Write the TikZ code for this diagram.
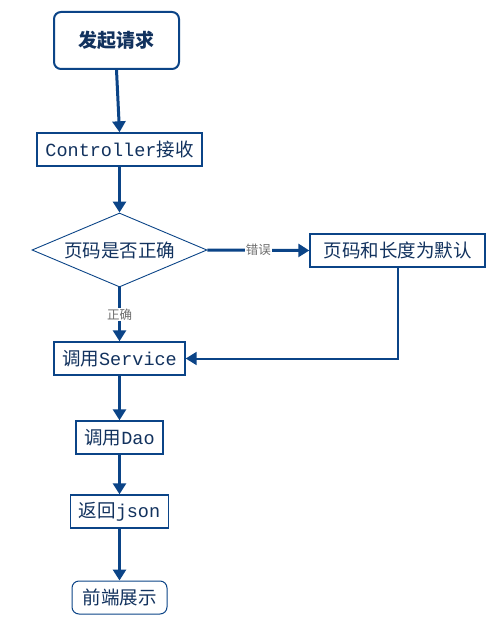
\documentclass[tikz,border=0pt]{standalone}
\usepackage{fontspec}
\setmainfont{Noto Sans CJK SC}
\setmonofont{Liberation Mono}
\usetikzlibrary{arrows.meta,shapes.geometric}
\definecolor{navy}{HTML}{0B4487}
\definecolor{txt}{HTML}{12325E}
\definecolor{lbl}{HTML}{6E6E6E}
\tikzset{
  box/.style={draw=navy, line width=1.4pt, fill=white, text=txt, minimum height=33pt, inner sep=0pt, font=\fontsize{18.5}{20}\selectfont},
  rbox/.style={box, rounded corners=7pt},
  dec/.style={draw=navy, line width=0.9pt, diamond, aspect=2.36, text=txt, inner sep=0pt, font=\fontsize{18.5}{20}\selectfont},
  conn/.style={draw=navy, line width=3pt, -{Triangle[length=11pt,width=13pt]}},
  lab/.style={fill=white, text=lbl, inner sep=1pt, font=\fontsize{12.5}{14}\selectfont}
}
\newcommand{\mt}[1]{{\ttfamily\fontsize{18.5}{20}\selectfont #1}}
\begin{document}
\begin{tikzpicture}[x=1pt,y=-1pt]
\useasboundingbox (0,0) rectangle (494,631);
\node[rbox, line width=2pt, minimum width=125pt, minimum height=57pt, font=\fontsize{19}{20}\selectfont\bfseries] (start) at (116.5,40.5) {发起请求};
\node[box, minimum width=165pt] (ctrl) at (119.5,149.5) {\mt{Controller}接收};
\node[dec, minimum width=175pt, minimum height=74pt] (chk) at (119.5,250) {页码是否正确};
\node[box, minimum width=175pt] (def) at (397.5,250.5) {页码和长度为默认};
\node[box, minimum width=131pt] (svc) at (119.5,358.5) {调用\mt{Service}};
\node[box, minimum width=87pt] (dao) at (119.5,437.5) {调用\mt{Dao}};
\node[box, minimum width=98pt] (json) at (119.5,511.5) {返回\mt{json}};
\node[rbox, line width=1pt, minimum width=95pt] (fe) at (119.5,597.5) {前端展示};
\coordinate (turn) at (def.south |- svc.east);
\draw[conn] (start.south) -- (ctrl.north);
\draw[conn] (ctrl.south) -- (chk.north);
\draw[conn] (chk.east) -- node[lab] {错误} (def.west);
\draw[conn] (chk.south) -- node[lab] {正确} (svc.north);
\draw[conn, line width=2pt] (def.south) -- (turn) -- (svc.east);
\draw[conn] (svc.south) -- (dao.north);
\draw[conn] (dao.south) -- (json.north);
\draw[conn] (json.south) -- (fe.north);
\end{tikzpicture}
\end{document}
